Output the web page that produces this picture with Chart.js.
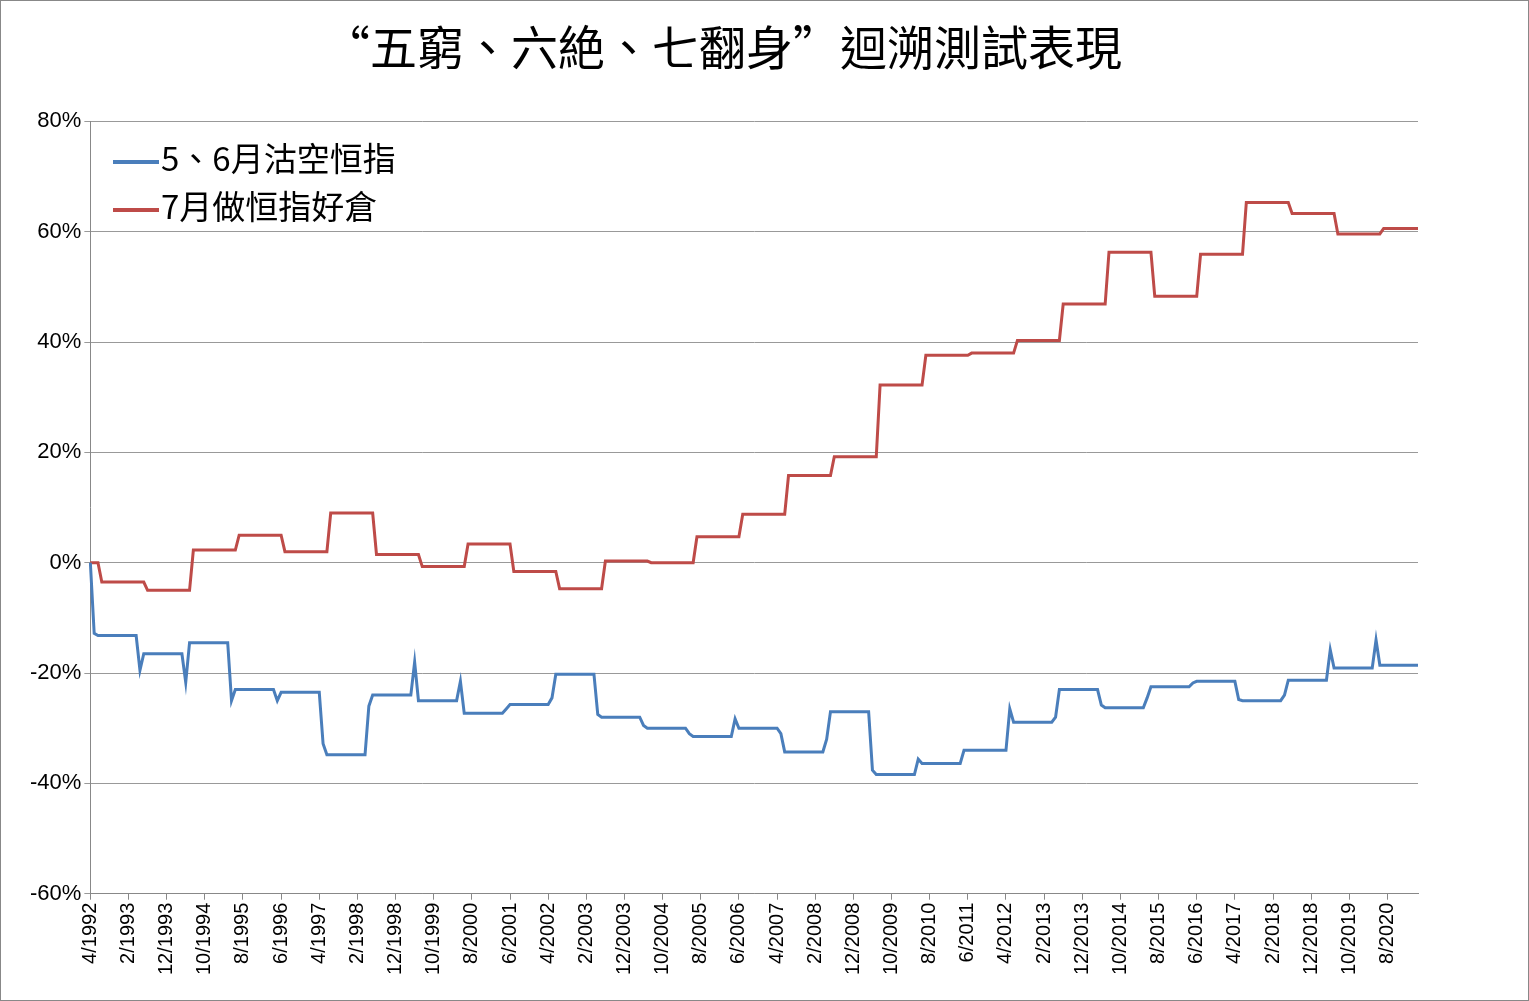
<!DOCTYPE html>
<html>
<head>
<meta charset="utf-8">
<script src="https://cdn.jsdelivr.net/npm/chart.js@4"></script>
<style>
  body { margin: 0; background: #fff; }
  #wrap { position: relative; width: 1527px; height: 999px; border: 1px solid #888; }
  #legend { position: absolute; left: 112px; top: 132px; font-family: "Noto Sans CJK TC", sans-serif; font-size: 33px; line-height: 48px; color: #000; }
  #legend span.sw { display: inline-block; width: 46px; height: 4px; vertical-align: middle; margin-right: 2px; }
</style>
</head>
<body>
<div id="wrap">
  <canvas id="c" width="1527" height="999"></canvas>
  <div id="legend">
    <div><span class="sw" style="background:#4a7ebb"></span>5、6月沽空恒指</div>
    <div><span class="sw" style="background:#be4b48"></span>7月做恒指好倉</div>
  </div>
</div>
<script>
// monthly from 4/1992 to 4/2021
var startYear = 1992, startMonth = 4, monthCount = 349;

// yearly values (%), one per year from 1992
var mayShort = [-12.8, -19.5, -21.7, -25, -25, -32.8, -26, -18, -21.5, -26.5, -24.5, -27.5, -29.5, -31, -28.3, -31, -32, -37.6, -35.6, -34, -26.5, -28, -25.8, -24.5, -21.8, -24.8, -24, -15.8, -14];
var juneShort = [-13.2, -16.5, -14.5, -23, -23.5, -34.8, -24, -25, -27.3, -25.7, -20.2, -28, -30, -31.5, -30, -34.3, -27, -38.4, -36.4, -34, -28.9, -23, -26.3, -22.5, -21.5, -25, -21.3, -19.1, -18.6];
var julyLong = [-3.5, -5, 2.3, 5, 2, 9, 1.5, -0.7, 3.4, -1.6, -4.7, 0.3, 0, 4.7, 8.8, 15.8, 19.2, 32.2, 37.6, 38, 40.3, 46.9, 56.3, 48.3, 55.9, 65.3, 63.3, 59.6, 60.6];

var yTicks = [-60, -40, -20, 0, 20, 40, 60, 80];

var labels = [], blue = [], red = [];
var b = 0, r = 0;
for (var i = 0; i < monthCount; i++) {
  var m = (startMonth - 1 + i) % 12 + 1;
  var y = startYear + Math.floor((startMonth - 1 + i) / 12);
  var k = y - startYear;
  if (m === 5 && k < mayShort.length) b = mayShort[k];
  if (m === 6 && k < juneShort.length) b = juneShort[k];
  if (m === 7 && k < julyLong.length) r = julyLong[k];
  labels.push(m + '/' + y);
  blue.push(b);
  red.push(r);
}

new Chart(document.getElementById('c'), {
  type: 'line',
  data: {
    labels: labels,
    datasets: [
      { data: blue, borderColor: '#4a7ebb', borderWidth: 3, pointRadius: 0, tension: 0 },
      { data: red, borderColor: '#be4b48', borderWidth: 3, pointRadius: 0, tension: 0 }
    ]
  },
  options: {
    responsive: false,
    animation: false,
    layout: { padding: { left: 26, right: 110, top: 0, bottom: 22 } },
    plugins: {
      legend: { display: false },
      tooltip: { enabled: false },
      title: {
        display: true,
        text: '“五窮、六絶、七翻身”迴溯測試表現',
        color: '#000',
        font: { family: '"Noto Sans CJK TC", sans-serif', size: 47, weight: 'normal' },
        padding: { top: 18, bottom: 46 }
      }
    },
    scales: {
      x: {
        offset: false,
        grid: { drawOnChartArea: false, color: '#888', tickLength: 6 },
        border: { color: '#888' },
        ticks: {
          autoSkip: false, maxRotation: 90, minRotation: 90,
          color: '#000', font: { family: 'Liberation Sans, Arial', size: 20 },
          callback: function (v, i) { return i % 10 === 0 ? labels[i] : null; }
        }
      },
      y: {
        min: -60, max: 80,
        afterBuildTicks: function (ax) { ax.ticks = yTicks.map(function (v) { return { value: v }; }); },
        grid: { color: '#999', tickLength: 6 },
        border: { color: '#888' },
        ticks: {
          color: '#000', font: { family: 'Liberation Sans, Arial', size: 22 },
          callback: function (v) { return v + '%'; }
        }
      }
    }
  }
});
</script>
</body>
</html>
